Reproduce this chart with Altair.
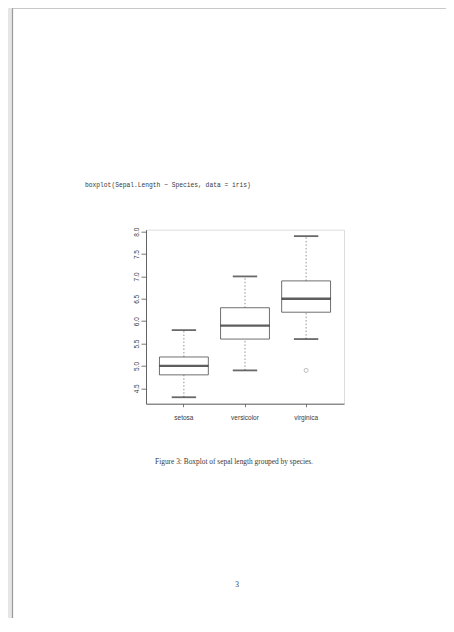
import altair as alt
import pandas as pd

# ---- data (iris Sepal.Length by Species) ----
species = ["setosa", "versicolor", "virginica"]
lower = [4.3, 4.9, 5.6]
q1 = [4.8, 5.6, 6.2]
median = [5.0, 5.9, 6.5]
q3 = [5.2, 6.3, 6.9]
upper = [5.8, 7.0, 7.9]
outlier_species = ["virginica"]
outlier_values = [4.9]
y_ticks = [4.5, 5.0, 5.5, 6.0, 6.5, 7.0, 7.5, 8.0]
y_domain = [4.156, 8.044]

code_text = "boxplot(Sepal.Length ~ Species, data = iris)"
caption_text = "Figure 3: Boxplot of sepal length grouped by species."
page_text = "3"

df = pd.DataFrame({"species": species, "lower": lower, "q1": q1,
                   "median": median, "q3": q3, "upper": upper})
out_df = pd.DataFrame({"species": outlier_species, "value": outlier_values})
one = pd.DataFrame({"k": [0]})

LINE = "#3a3a3a"
FONT = "Liberation Sans"

xscale = alt.Scale(domain=species, paddingInner=0, paddingOuter=0.12)
yscale = alt.Scale(domain=y_domain, nice=False, zero=False)

xax = alt.Axis(title=None, labelAngle=0, tickSize=3, labelPadding=8,
               labelFontSize=6.5, labelColor=LINE, domainColor="#555555",
               tickColor="#555555", domainWidth=0.9, tickWidth=0.8,
               labelFont=FONT, grid=False)
yax = alt.Axis(title=None, values=y_ticks, format=".1f", labelAngle=270,
               labelAlign="center", labelBaseline="bottom", tickSize=5,
               labelPadding=1.5, labelFontSize=6.5, labelColor=LINE,
               domainColor="#555555", tickColor="#555555", domainWidth=0.9,
               tickWidth=0.8, labelFont=FONT, grid=False)

X = alt.X("species:N", scale=xscale, axis=xax, sort=species)

base = alt.Chart(df)

w_low = base.mark_rule(color="#666666", strokeWidth=0.7, strokeDash=[1.5, 2]).encode(
    x=X, y=alt.Y("lower:Q", scale=yscale, axis=yax), y2="q1:Q")
w_up = base.mark_rule(color="#666666", strokeWidth=0.7, strokeDash=[1.5, 2]).encode(
    x=X, y=alt.Y("q3:Q", scale=yscale, axis=yax), y2="upper:Q")
box = base.mark_bar(fill="white", stroke="#4a4a4a", strokeWidth=0.8,
                    width=alt.RelativeBandSize(0.8)).encode(
    x=X, y=alt.Y("q1:Q", scale=yscale, axis=yax), y2="q3:Q")
med = base.mark_tick(color="#1a1a1a", thickness=2.4, size=48.9).encode(
    x=X, y=alt.Y("median:Q", scale=yscale, axis=yax))
cap_low = base.mark_tick(color="#2a2a2a", thickness=1.8, size=24.4).encode(
    x=X, y=alt.Y("lower:Q", scale=yscale, axis=yax))
cap_up = base.mark_tick(color="#2a2a2a", thickness=1.8, size=24.4).encode(
    x=X, y=alt.Y("upper:Q", scale=yscale, axis=yax))
outl = alt.Chart(out_df).mark_point(shape="circle", filled=False, size=16,
                                    color="#888888", strokeWidth=0.8).encode(
    x=X, y=alt.Y("value:Q", scale=yscale, axis=yax))

ann = alt.Chart(one)
code = ann.mark_text(font="Liberation Mono", fontSize=6.3, color=LINE,
                     align="left", baseline="middle").encode(
    x=alt.value(-61), y=alt.value(-44.7), text=alt.value(code_text))
caption = ann.mark_text(font="Liberation Serif", fontSize=7.4, color=LINE,
                        align="center", baseline="middle").encode(
    x=alt.value(88), y=alt.value(232.5), text=alt.value(caption_text))
page = ann.mark_text(font="Liberation Serif", fontSize=7.4, color=LINE,
                     align="center", baseline="middle").encode(
    x=alt.value(91), y=alt.value(355.3), text=alt.value(page_text))

# page frame decoration
edge_fill = ann.mark_rect(color="#e6e6e6").encode(
    x=alt.value(-138), x2=alt.value(-134), y=alt.value(-222), y2=alt.value(390))
edge_line = ann.mark_rule(color="#9a9a9a", strokeWidth=1.2).encode(
    x=alt.value(-133.5), y=alt.value(-222), y2=alt.value(390))
top_line = ann.mark_rule(color="#b0b0b0", strokeWidth=1).encode(
    x=alt.value(-134), x2=alt.value(300), y=alt.value(-221.5))

chart = alt.layer(
    edge_fill, edge_line, top_line,
    w_low, w_up, box, med, cap_low, cap_up, outl,
    code, caption, page,
).properties(
    width=198, height=174,
    padding={"left": 138, "top": 221.7, "right": 102, "bottom": 214},
    autosize=alt.AutoSizeParams(type="none"),
).configure_view(stroke="#555555", strokeWidth=0.8).configure(
    background="white", font=FONT)

chart.save("out.html", embed_options={"renderer": "svg", "actions": False})
